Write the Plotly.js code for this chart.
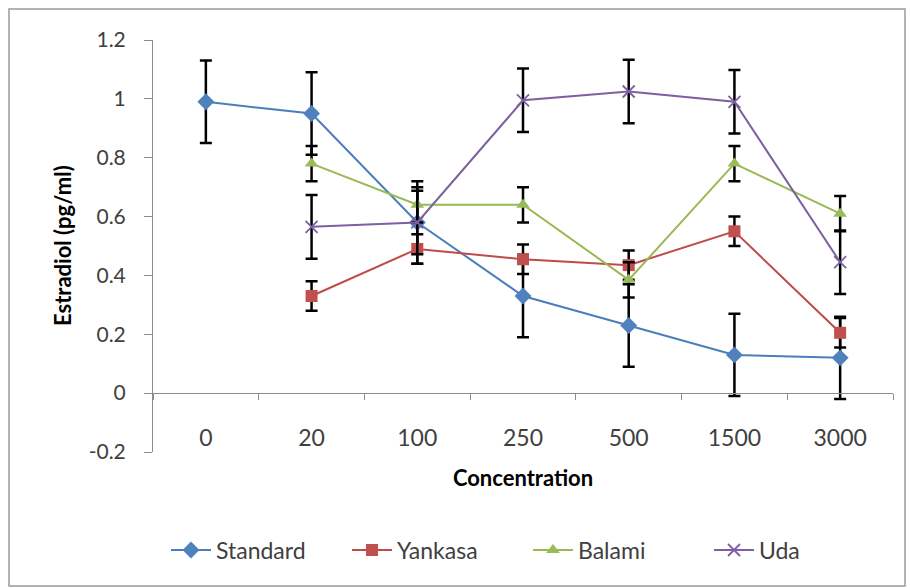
<!DOCTYPE html>
<html>
<head>
<meta charset="utf-8">
<script src="https://cdn.plot.ly/plotly-3.0.1.min.js"></script>
<style>html,body{margin:0;padding:0;background:#fff;}#chart{width:910px;height:588px;}</style>
</head>
<body>
<div id="chart"></div>
<script>
const categories = ['0', '20', '100', '250', '500', '1500', '3000'];
const standard    = [0.99, 0.95, 0.58, 0.33, 0.23, 0.13, 0.12];
const standardErr = [0.14, 0.14, 0.14, 0.14, 0.14, 0.14, 0.14];
const yankasa     = [null, 0.33, 0.49, 0.455, 0.435, 0.55, 0.205];
const yankasaErr  = [null, 0.05, 0.05, 0.05, 0.05, 0.05, 0.05];
const balami      = [null, 0.78, 0.64, 0.64, 0.385, 0.78, 0.61];
const balamiErr   = [null, 0.06, 0.06, 0.06, 0.06, 0.06, 0.06];
const uda         = [null, 0.565, 0.58, 0.995, 1.025, 0.99, 0.445];
const udaErr      = [null, 0.108, 0.108, 0.108, 0.108, 0.108, 0.108];
const yTickVals   = [-0.2, 0, 0.2, 0.4, 0.6, 0.8, 1, 1.2];
const yTickText   = ['-0.2', '0', '0.2', '0.4', '0.6', '0.8', '1', '1.2'];
const yTitle      = 'Estradiol (pg/ml)';
const xTitle      = 'Concentration';

const FONT = 'Lato, "Open Sans", sans-serif';

function series(name, y, err, lineColor, markerColor, symbol, size) {
  const isX = symbol.indexOf('x') === 0;
  return {
    type: 'scatter', mode: 'lines+markers', name: name,
    x: categories, y: y,
    line: {color: lineColor, width: 2},
    marker: isX ? {symbol: symbol, size: size, color: markerColor, line: {color: markerColor, width: 1.8}}
                : {symbol: symbol, size: size, color: markerColor, line: {width: 0}},
    error_y: {type: 'data', array: err, visible: true, color: '#000000', thickness: 2.5, width: 6},
    connectgaps: false
  };
}

const data = [
  series('Standard', standard, standardErr, '#4A7EBB', '#4F81BD', 'diamond', 13),
  series('Yankasa', yankasa, yankasaErr, '#BE4B48', '#C0504D', 'square', 12),
  series('Balami', balami, balamiErr, '#98B954', '#9BBB59', 'triangle-up', 12),
  series('Uda', uda, udaErr, '#7D60A0', '#7D60A0', 'x-thin-open', 12)
];

const layout = {
  width: 910, height: 588,
  margin: {l: 153, r: 17, t: 40, b: 136},
  paper_bgcolor: '#ffffff', plot_bgcolor: '#ffffff',
  font: {family: FONT, color: '#404040'},
  showlegend: true,
  xaxis: {
    type: 'category', range: [-0.5, 6.5],
    anchor: 'free', position: 0.2 / 1.4,
    showline: true, linecolor: '#8c8c8c', linewidth: 1,
    ticks: 'outside', tickson: 'boundaries', ticklen: 6, tickcolor: '#8c8c8c',
    ticklabelstandoff: 24,
    tickfont: {size: 23, color: '#404040', family: FONT},
    showgrid: false, zeroline: false,
    title: {text: xTitle, font: {size: 22, color: '#000000', family: FONT, weight: 'bold'}, standoff: 20}
  },
  yaxis: {
    range: [-0.2, 1.2],
    tickmode: 'array', tickvals: yTickVals, ticktext: yTickText,
    showline: true, linecolor: '#8c8c8c', linewidth: 1,
    ticks: 'outside', ticklen: 8, tickcolor: '#8c8c8c',
    ticklabelstandoff: 14,
    tickfont: {size: 21, color: '#404040', family: FONT},
    showgrid: false, zeroline: false
  },
  annotations: [{
    text: yTitle, textangle: -90, showarrow: false,
    xref: 'paper', yref: 'paper',
    x: (62 - 153) / 740, y: (452 - 246) / 412,
    xanchor: 'center', yanchor: 'middle',
    font: {size: 22, color: '#000000', family: FONT, weight: 'bold'}
  }],
  legend: {
    orientation: 'h', x: (166 - 153) / 740, xanchor: 'left', y: -0.238, yanchor: 'middle',
    font: {size: 23, color: '#404040', family: FONT},
    bgcolor: 'rgba(0,0,0,0)', itemwidth: 40, traceorder: 'normal',
    entrywidth: 126, entrywidthmode: 'pixels'
  },
  shapes: [{
    type: 'rect', xref: 'paper', yref: 'paper',
    x0: (9 - 153) / 740, x1: (905 - 153) / 740,
    y0: (452 - 586) / 412, y1: (452 - 9) / 412,
    line: {color: '#9a9a9a', width: 1.5}, fillcolor: 'rgba(0,0,0,0)', layer: 'below'
  }]
};

Plotly.newPlot('chart', data, layout, {displayModeBar: false, staticPlot: true});
</script>
</body>
</html>
